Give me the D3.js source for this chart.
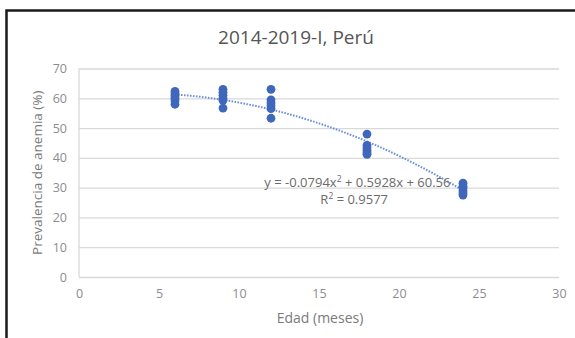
<!DOCTYPE html>
<html>
<head>
<meta charset="utf-8">
<script src="https://cdn.jsdelivr.net/npm/d3@7"></script>
<style>
  body { margin: 0; background: #fff; }
  text { font-family: "Open Sans", "Liberation Sans", sans-serif; }
</style>
</head>
<body>
<div id="canvas"></div>
<script>
const w = 575
const h = 338

// edad (meses) and prevalencia (%)
const ages = [6, 6, 6, 6, 6, 6,
	9, 9, 9, 9, 9, 9,
	12, 12, 12, 12, 12, 12,
	18, 18, 18, 18, 18, 18,
	24, 24, 24, 24, 24, 24]
const prevalence = [62.3, 61.5, 60.8, 60, 59.2, 58,
	63, 62, 61, 60, 59.3, 56.7,
	63, 59.5, 58.5, 57.5, 56.5, 53.3,
	48, 44.2, 43.3, 42.5, 41.7, 41.2,
	31.5, 30.5, 30, 29, 28.2, 27.5]
// polynomial trendline shown on the chart
const trendCoef = [60.56, 0.5928, -0.0794]
const trendRange = [6, 24]
const xTicks = [0, 5, 10, 15, 20, 25, 30]
const yTicks = [0, 10, 20, 30, 40, 50, 60, 70]

const margin = {'top': 68.5, 'right': 16, 'bottom': 61, 'left': 79};
const graphWidth = w - margin.left - margin.right;
const graphHeight = h - margin.top - margin.bottom;

const svg = d3.select('#canvas')
	.append('svg')
	.attr('width', w)
	.attr('height', h);

// black frame around the figure
svg.append('rect')
	.attr('x', 6.5)
	.attr('y', 10.5)
	.attr('width', w + 10)
	.attr('height', h + 10)
	.attr('fill', 'none')
	.attr('stroke', '#1a1a1a')
	.attr('stroke-width', 2.5);

const graph = svg.append('g')
	.attr('transform', `translate(${margin.left}, ${margin.top})`);

const x = d3.scaleLinear()
	.domain([0, 30])
	.range([0, graphWidth]);

const y = d3.scaleLinear()
	.domain([0, 70])
	.range([graphHeight, 0]);

// gridlines
const yGrid = d3.axisLeft(y)
	.tickValues(yTicks)
	.tickSize(-graphWidth)
	.tickFormat('');
graph.append('g')
	.call(yGrid)
	.call(g => g.select('.domain').remove())
	.selectAll('line')
	.attr('stroke', '#d9d9d9')
	.attr('stroke-width', 1.3);

graph.append('line')
	.attr('x1', 0).attr('x2', 0)
	.attr('y1', 0).attr('y2', graphHeight)
	.attr('stroke', '#d9d9d9')
	.attr('stroke-width', 1.3);

// axes (labels only)
const xAxisGroup = graph.append('g')
	.attr('transform', `translate(0, ${graphHeight})`)
	.call(d3.axisBottom(x).tickValues(xTicks).tickSize(0).tickPadding(12));
const yAxisGroup = graph.append('g')
	.call(d3.axisLeft(y).tickValues(yTicks).tickSize(0).tickPadding(12));

[xAxisGroup, yAxisGroup].forEach(g => {
	g.select('.domain').remove();
	g.selectAll('text')
		.attr('fill', '#8c8c8c')
		.style('font-size', '12.5px')
		.style('font-family', '"Open Sans", "Liberation Sans", sans-serif');
});

// trendline
const trendX = d3.range(trendRange[0], trendRange[1] + 0.001, 0.25);
const line = d3.line()
	.x(d => x(d))
	.y(d => y(trendCoef[0] + trendCoef[1] * d + trendCoef[2] * d * d));
graph.append('path')
	.datum(trendX)
	.attr('d', line)
	.attr('fill', 'none')
	.attr('stroke', '#6d91d6')
	.attr('stroke-width', 2)
	.attr('stroke-dasharray', '1.6 1.4');

// points
graph.selectAll('circle')
	.data(ages.map((a, i) => [a, prevalence[i]]))
	.enter()
	.append('circle')
		.attr('cx', d => x(d[0]))
		.attr('cy', d => y(d[1]))
		.attr('r', 4.4)
		.attr('fill', '#3f67bb');

// equation label
const eq = graph.append('text')
	.attr('x', x(17.4))
	.attr('y', y(30.2))
	.attr('text-anchor', 'middle')
	.attr('fill', '#6b6b6b')
	.style('font-size', '13px');
eq.append('tspan').text('y = -0.0794x');
eq.append('tspan').text('2').attr('dy', -5).style('font-size', '8.5px');
eq.append('tspan').text(' + 0.5928x + 60.56').attr('dy', 5);

const r2 = graph.append('text')
	.attr('x', x(17.2))
	.attr('y', y(24.4))
	.attr('text-anchor', 'middle')
	.attr('fill', '#6b6b6b')
	.style('font-size', '13px');
r2.append('tspan').text('R');
r2.append('tspan').text('2').attr('dy', -5).style('font-size', '8.5px');
r2.append('tspan').text(' = 0.9577').attr('dy', 5);

// titles
svg.append('text')
	.attr('x', 296)
	.attr('y', 43.5)
	.attr('text-anchor', 'middle')
	.attr('fill', '#555')
	.style('font-size', '19px')
	.text('2014-2019-I, Perú');

svg.append('text')
	.attr('x', 320)
	.attr('y', 323)
	.attr('text-anchor', 'middle')
	.attr('fill', '#7a7a7a')
	.style('font-size', '14px')
	.text('Edad (meses)');

svg.append('text')
	.attr('transform', `translate(42, ${margin.top + graphHeight / 2}) rotate(-90)`)
	.attr('text-anchor', 'middle')
	.attr('fill', '#7a7a7a')
	.style('font-size', '13.5px')
	.text('Prevalencia de anemia (%)');
</script>
</body>
</html>
